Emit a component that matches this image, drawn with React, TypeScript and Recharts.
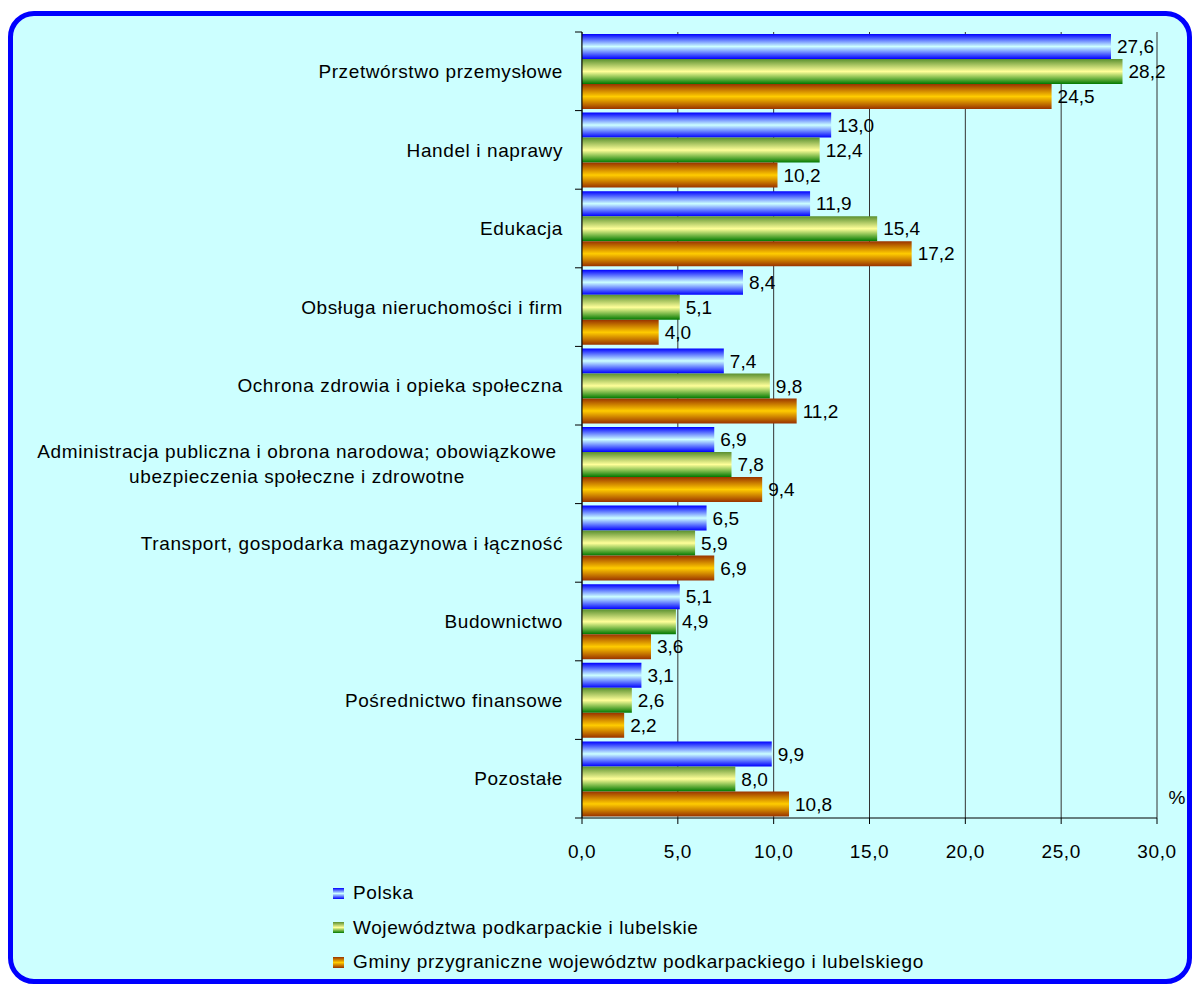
import React from 'react'
import { BarChart, Bar, XAxis, YAxis, CartesianGrid, LabelList } from 'recharts'

const categories = [
  'Przetwórstwo przemysłowe',
  'Handel i naprawy',
  'Edukacja',
  'Obsługa nieruchomości i firm',
  'Ochrona zdrowia i opieka społeczna',
  'Administracja publiczna i obrona narodowa; obowiązkowe\nubezpieczenia społeczne i zdrowotne',
  'Transport, gospodarka magazynowa i łączność',
  'Budownictwo',
  'Pośrednictwo finansowe',
  'Pozostałe',
]
const polska = [27.6, 13.0, 11.9, 8.4, 7.4, 6.9, 6.5, 5.1, 3.1, 9.9]
const wojewodztwa = [28.2, 12.4, 15.4, 5.1, 9.8, 7.8, 5.9, 4.9, 2.6, 8.0]
const gminy = [24.5, 10.2, 17.2, 4.0, 11.2, 9.4, 6.9, 3.6, 2.2, 10.8]
const xTicks = [0, 5, 10, 15, 20, 25, 30]

const seriesNames = [
  'Polska',
  'Województwa podkarpackie i lubelskie',
  'Gminy przygraniczne województw podkarpackiego i lubelskiego',
]

const data = categories.map((name, i) => ({
  name,
  polska: polska[i],
  woj: wojewodztwa[i],
  gminy: gminy[i],
}))

const FONT = '"Liberation Sans", Arial, sans-serif'
const fmt = (v: any) => Number(v).toFixed(1).replace('.', ',')

const gradients = [
  { id: 'gBlue', stops: ['#0000ff', '#ccffff', '#0000ff'] },
  { id: 'gGreen', stops: ['#5a9030', '#ffff99', '#007800'] },
  { id: 'gOrange', stops: ['#993300', '#ffcc00', '#993300'] },
]

const BAND = 78.6

const CategoryTick = (props: any) => {
  const { x, y, payload, index } = props
  const lines = String(payload.value).split('\n')
  const isLast = index === categories.length - 1
  return (
    <g>
      <line x1={x - 7} x2={x} y1={y - BAND / 2} y2={y - BAND / 2} stroke="#000" />
      {isLast && <line x1={x - 7} x2={x} y1={y + BAND / 2} y2={y + BAND / 2} stroke="#000" />}
      {lines.length === 1 ? (
        <text x={x - 19} y={y} dy="0.35em" textAnchor="end" fontSize={19} letterSpacing={0.6} fill="#000" fontFamily={FONT}>
          {lines[0]}
        </text>
      ) : (
        lines.map((l, k) => (
          <text key={k} x={x - 19 - 266} y={y - 12.5 + k * 25} dy="0.35em" textAnchor="middle" fontSize={19} letterSpacing={0.6} fill="#000" fontFamily={FONT}>
            {l}
          </text>
        ))
      )}
    </g>
  )
}

const LegendBox = () => (
  <div style={{ fontFamily: FONT, fontSize: 19, letterSpacing: 0.6, color: '#000' }}>
    {seriesNames.map((n, i) => (
      <div key={n} style={{ display: 'flex', alignItems: 'center', height: i === 1 ? 35 : 34 }}>
        <svg width={11} height={11} style={{ marginRight: 9 }}>
          <rect x={0} y={0} width={11} height={11} fill={`url(#${gradients[i].id})`} />
        </svg>
        <span>{n}</span>
      </div>
    ))}
  </div>
)

export default function App() {
  return (
    <div style={{ position: 'absolute', left: 0, top: 0, width: 1193, height: 985 }}>
      <div
        style={{
          position: 'absolute',
          left: 8,
          top: 11,
          width: 1174,
          height: 963,
          border: '5px solid #0000ff',
          borderRadius: 26,
          background: '#ccffff',
        }}
      />
      <div style={{ position: 'absolute', left: 0, top: 0 }}>
        <BarChart
          width={1193}
          height={985}
          data={data}
          layout="vertical"
          margin={{ top: 32, right: 36, bottom: 0, left: 0 }}
          barCategoryGap={2}
          barGap={0}
        >
          <defs>
            {gradients.map((g) => (
              <linearGradient key={g.id} id={g.id} x1="0" y1="0" x2="0" y2="1">
                <stop offset="0%" stopColor={g.stops[0]} />
                <stop offset="50%" stopColor={g.stops[1]} />
                <stop offset="100%" stopColor={g.stops[2]} />
              </linearGradient>
            ))}
          </defs>
          <CartesianGrid horizontal={false} stroke="#333" />
          <XAxis
            type="number"
            domain={[0, 30]}
            ticks={xTicks}
            tickFormatter={fmt}
            stroke="#000"
            tickSize={6}
            tickMargin={21}
            height={167}
            tick={{ fill: '#000', fontSize: 19, fontFamily: FONT, letterSpacing: 0.6 }}
            label={{
              content: (p: any) => {
                const vb = p.viewBox
                return (
                  <text x={vb.x + vb.width + 20} y={vb.y - 14} textAnchor="middle" fontSize={19} fontFamily={FONT} fill="#000">
                    %
                  </text>
                )
              },
            }}
          />
          <YAxis
            type="category"
            dataKey="name"
            width={582}
            stroke="#000"
            tickLine={false}
            tickSize={0}
            tickMargin={0}
            interval={0}
            tick={<CategoryTick />}
          />
          <Bar dataKey="polska" fill="url(#gBlue)" isAnimationActive={false} name={seriesNames[0]}>
            <LabelList dataKey="polska" position="right" offset={6} formatter={fmt} fill="#000" fontSize={19} fontFamily={FONT} />
          </Bar>
          <Bar dataKey="woj" fill="url(#gGreen)" isAnimationActive={false} name={seriesNames[1]}>
            <LabelList dataKey="woj" position="right" offset={6} formatter={fmt} fill="#000" fontSize={19} fontFamily={FONT} />
          </Bar>
          <Bar dataKey="gminy" fill="url(#gOrange)" isAnimationActive={false} name={seriesNames[2]}>
            <LabelList dataKey="gminy" position="right" offset={6} formatter={fmt} fill="#000" fontSize={19} fontFamily={FONT} />
          </Bar>
        </BarChart>
      </div>
      <div style={{ position: 'absolute', left: 333, top: 876 }}>
        <LegendBox />
      </div>
    </div>
  )
}
